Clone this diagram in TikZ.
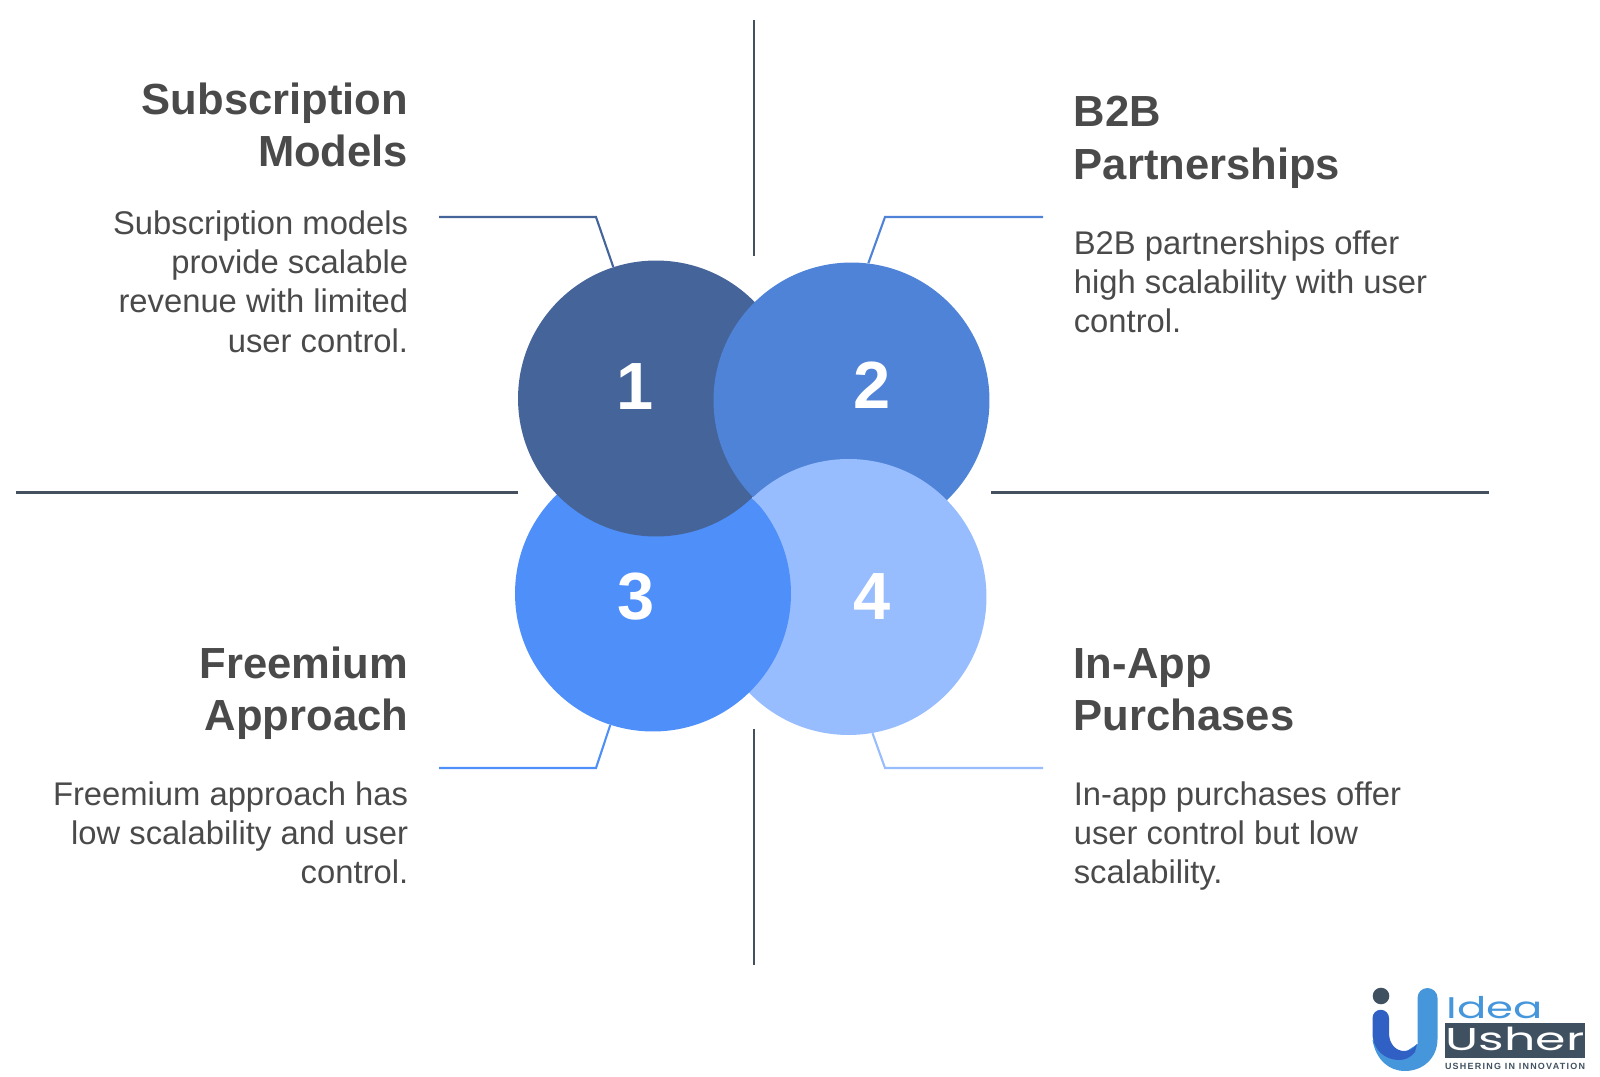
\documentclass[tikz,border=0pt]{standalone}
\usepackage{fontspec}
\usepackage{xcolor}
\setmainfont{Liberation Sans}
\newfontfamily\logofont{Poppins}
\newfontfamily\tagfont[LetterSpace=14]{Liberation Sans}
\definecolor{inkgray}{HTML}{4A4A4A}
\definecolor{rulegray}{HTML}{44505E}
\definecolor{blueone}{HTML}{45659A}
\definecolor{bluetwo}{HTML}{4F83D8}
\definecolor{bluethree}{HTML}{4F8FF9}
\definecolor{bluefour}{HTML}{97BDFF}
\definecolor{logoblue}{HTML}{4696DC}
\definecolor{logodark}{HTML}{3160C4}
\definecolor{logoslate}{HTML}{3F5161}
\tikzset{
	disc/.style={circle,inner sep=0pt,minimum size=5.52cm},
	numeral/.style={text=white,font=\fontsize{38}{38}\selectfont\bfseries},
	heading/.style={inner sep=0pt,text=inkgray,font=\fontsize{24.8}{29.9}\selectfont\bfseries},
	bodytext/.style={inner sep=0pt,text=inkgray,font=\fontsize{18.65}{22.4}\selectfont},
	divider/.style={rulegray,line width=1.25pt},
	leader/.style={line width=1.2pt}
}
\begin{document}
\begin{tikzpicture}[x=0.02cm,y=-0.02cm]
	\useasboundingbox (0,0) rectangle (1600,1077);
	% dividers
	\coordinate (topa) at (754,20);
	\coordinate (topb) at (754,256);
	\coordinate (bota) at (754,729);
	\coordinate (botb) at (754,965);
	\coordinate (lefta) at (16,492.5);
	\coordinate (leftb) at (518,492.5);
	\coordinate (righta) at (991,492.5);
	\coordinate (rightb) at (1489,492.5);
	\draw[divider] (topa) -- (topb);
	\draw[divider] (bota) -- (botb);
	\draw[divider] (lefta) -- (leftb);
	\draw[divider] (righta) -- (rightb);

	% discs, each one over the next
	\node[disc,fill=bluefour] (four) at (848.5,597) {};
	\node[disc,fill=bluethree] (three) at (653,593.5) {};
	\node[disc,fill=blueone] (one) at (656,398.5) {};
	\node[disc,fill=bluetwo] (two) at (851.5,400.5) {};
	\begin{scope}
		\clip (851.5,400.5) circle (139.5);
		\fill[bluefour] (848.5,597) circle (138);
	\end{scope}

	\node[numeral] (numone) at (635,387) {1};
	\node[numeral] (numtwo) at (872,385) {2};
	\node[numeral] (numthree) at (636,597) {3};
	\node[numeral] (numfour) at (872,597) {4};

	% leaders
	\coordinate (lonea) at (439,217);
	\coordinate (loneb) at (596,217);
	\coordinate (ltwoa) at (1043,217);
	\coordinate (ltwob) at (885,217);
	\coordinate (lthreea) at (439,768);
	\coordinate (lthreeb) at (596,768);
	\coordinate (lfoura) at (1043,768);
	\coordinate (lfourb) at (885,768);
	\draw[leader,blueone] (lonea) -- (loneb) -- (one.108);
	\draw[leader,bluetwo] (ltwoa) -- (ltwob) -- (two.83);
	\draw[leader,bluethree] (lthreea) -- (lthreeb) -- (three.252);
	\draw[leader,bluefour] (lfoura) -- (lfourb) -- (four.280);

	% left texts
	\node[heading,anchor=north east,align=right] (subhead) at (408.5,82.5) {Subscription\\Models};
	\node[bodytext,anchor=north east,align=right] (subbody) at (408.5,210) {Subscription models\\provide scalable\\revenue with limited\\user control.};
	\node[heading,anchor=north east,align=right] (freehead) at (408.5,646.5) {Freemium\\Approach};
	\node[bodytext,anchor=north east,align=right] (freebody) at (408.5,781) {Freemium approach has\\low scalability and user\\control.};

	% right texts
	\node[heading,anchor=north west,align=left] (btobhead) at (1073.5,96) {B2B\\Partnerships};
	\node[bodytext,anchor=north west,align=left] (btobbody) at (1073.5,230) {B2B partnerships offer\\high scalability with user\\control.};
	\node[heading,anchor=north west,align=left] (apphead) at (1073.5,648) {In-App\\Purchases};
	\node[bodytext,anchor=north west,align=left] (appbody) at (1073.5,781) {In-app purchases offer\\user control but low\\scalability.};

	% logo
	\fill[logoblue] (1417.5,998) arc[start angle=180,end angle=360,radius=10] -- (1437.5,1039)
		.. controls (1437.5,1058) and (1423,1071) .. (1405,1071)
		.. controls (1389,1071) and (1376,1060) .. (1372.5,1040)
		-- (1399,1056) -- (1417.5,1044) -- cycle;
	\fill[logodark] (1372.5,1018) arc[start angle=180,end angle=360,radius=8.25] -- (1389,1033)
		.. controls (1389,1044) and (1396,1051) .. (1404,1051)
		.. controls (1409,1051) and (1413,1049) .. (1417,1044)
		-- (1415,1052) .. controls (1410,1058) and (1405,1060) .. (1399,1060)
		.. controls (1385,1060) and (1372.5,1050) .. (1372.5,1033) -- cycle;
	\fill[logoslate] (1381,996) circle (8.3);
	\node[inner sep=0pt,text=logoblue,font=\logofont\fontsize{17}{17}\selectfont,xscale=1.45] (logoidea) at (1495,1008) {Idea};
	\node[fill=logoslate,inner sep=0pt,minimum width=2.8cm,minimum height=0.7cm] (logobox) at (1515,1040.5) {};
	\node[inner sep=0pt,text=white,font=\logofont\fontsize{18}{18}\selectfont,xscale=1.55] (logousher) at (1515,1039) {Usher};
	\node[inner sep=0pt,text=logoslate,font=\tagfont\fontsize{5.1}{5.1}\selectfont\bfseries] (logotag) at (1515,1066.5) {USHERING IN INNOVATION};
\end{tikzpicture}
\end{document}
